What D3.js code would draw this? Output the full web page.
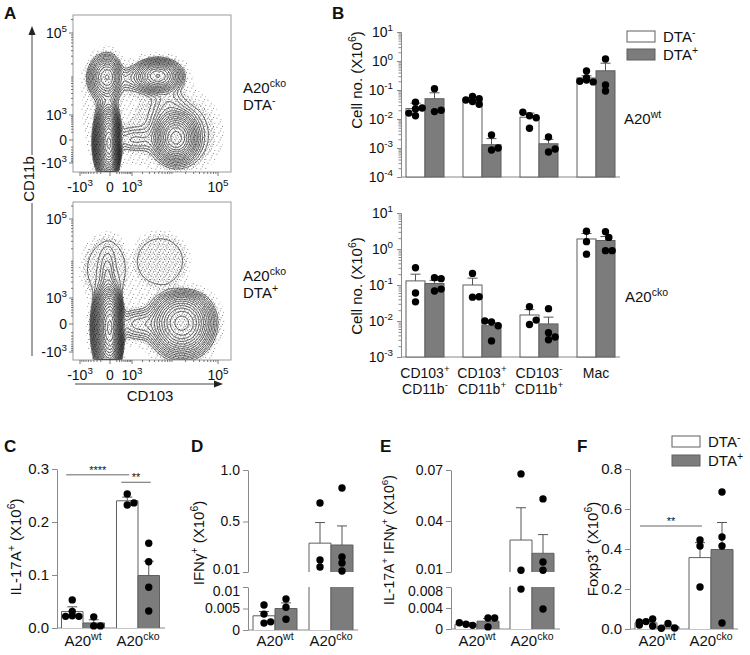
<!DOCTYPE html>
<html><head><meta charset="utf-8">
<script src="https://cdn.jsdelivr.net/npm/d3@7"></script>
<style>body{margin:0;background:#fff}</style>
</head><body>
<svg id="c" width="750" height="655" xmlns="http://www.w3.org/2000/svg"></svg>
<script>
// ================= DATA =================
// Panel A – flow cytometry (biexponential axes)
const flowTicks = [-1e3, 0, 1e3, 1e5];
const flowTickLabels = [["-10",["3"]], ["0"], ["10",["3"]], ["10",["5"]]];
const flowMinor = [-900,-800,-700,-600,-500,-400,-300,-200,200,300,400,500,600,700,800,900,
  2000,3000,4000,5000,6000,7000,8000,9000,1e4,2e4,3e4,4e4,5e4,6e4,7e4,8e4,9e4,2e5];
// populations: centre/spread in display units (decades), w = relative density, p = shape (1 gaussian, >1 flat-top)
const flowTopPops = [
  {cx:-0.016, cy:-0.07, sx:0.085,sy:0.27, w:1.0},   // CD103- CD11b-
  {cx:-0.05,  cy:1.33,  sx:0.13, sy:0.22, w:0.12},  // CD103- CD11b+
  {cx:1.04,   cy:1.36,  sx:0.21, sy:0.155,w:0.2},   // CD103+ CD11b+
  {cx:1.43,   cy:0.04,  sx:0.19, sy:0.21, w:0.3},   // CD103+ CD11b-
  {cx:1.55,   cy:0.1,   sx:0.62, sy:0.62, w:0.0062, p:2},
  {cx:0.55,   cy:0.0,   sx:0.3,  sy:0.14, w:0.012},
  {cx:-0.03,  cy:0.69,  sx:0.1,  sy:0.25, w:0.014},
  {cx:0.49,   cy:1.3,   sx:0.3,  sy:0.15, w:0.012},
  {cx:1.26,   cy:0.71,  sx:0.2,  sy:0.3,  w:0.009},
  {cx:0.7,    cy:0.55,  sx:0.75, sy:0.7,  w:0.003}
];
const flowBotPops = [
  {cx:0.0,   cy:-0.06, sx:0.1,  sy:0.3,  w:1.0},
  {cx:1.55,  cy:0.02,  sx:0.27, sy:0.24, w:0.3},
  {cx:-0.02, cy:1.17,  sx:0.38, sy:0.68, w:0.0066, p:3},
  {cx:-0.04, cy:1.0,   sx:0.07, sy:0.32, w:0.012},
  {cx:1.09,  cy:1.36,  sx:0.52, sy:0.56, w:0.0066, p:3},
  {cx:0.65,  cy:0.0,   sx:0.3,  sy:0.15, w:0.02},
  {cx:0.7,   cy:0.5,   sx:0.8,  sy:0.7,  w:0.001}
];
const contourLevels = [0.92,0.72,0.56,0.44,0.34,0.26,0.2,0.155,0.12,0.092,0.07,0.054,0.041,0.031,0.024,0.018,0.0135,0.01,0.0074,0.0052];

// Panel B – cell numbers (x10^6)
const bGroups = ["CD103+CD11b-","CD103+CD11b+","CD103-CD11b+","Mac"];
const bGroupLabels = [[["CD103",["+"]],["CD11b",["-"]]], [["CD103",["+"]],["CD11b",["+"]]], [["CD103",["-"]],["CD11b",["+"]]], [["Mac"]]];
const bTopTicks = [1e-4,1e-3,1e-2,1e-1,1e0,1e1];
const bBotTicks = [1e-3,1e-2,1e-1,1e0,1e1];
const bWtNegMean = [0.023, 0.045, 0.0115, 0.26];
const bWtNegSem  = [0.012, 0.008, 0.0045, 0.05];
const bWtPosMean = [0.05, 0.0013, 0.0014, 0.46];
const bWtPosSem  = [0.03, 0.0008, 0.0006, 0.38];
const bWtNegDots = [[0.038,0.022,0.024,0.013,0.016],[0.06,0.05,0.045,0.04,0.032],[0.013,0.011,0.017,0.0048],[0.45,0.26,0.19,0.2,0.22]];
const bWtPosDots = [[0.11,0.018,0.02],[0.0028,0.00085,0.001],[0.0024,0.00073,0.00092],[1.17,0.092,0.15]];
const bCkoNegMean = [0.13, 0.10, 0.0147, 1.9];
const bCkoNegSem  = [0.07, 0.055, 0.006, 0.8];
const bCkoPosMean = [0.11, 0.0074, 0.0083, 1.72];
const bCkoPosSem  = [0.025, 0.0015, 0.0045, 0.5];
const bCkoNegDots = [[0.3,0.034,0.06],[0.21,0.046,0.047],[0.025,0.008,0.0106],[3.1,1.6,0.72]];
const bCkoPosDots = [[0.16,0.15,0.068,0.077],[0.0094,0.0074,0.01,0.0028],[0.022,0.0047,0.003,0.0036],[3.0,2.1,0.9,0.9]];

// Panels C–F
const genotypes = ["A20wt","A20cko"];
const genotypeLabels = [["A20",["wt"]],["A20",["cko"]]];
const cTicks = [0,0.1,0.2,0.3], cTickLabels = ["0.0","0.1","0.2","0.3"];
const cNegMean = [0.031,0.24], cNegSem = [0.009,0.007], cPosMean = [0.0095,0.099], cPosSem = [0.006,0.027];
const cNegDots = [[0.053,0.031,0.022,0.022,0.023],[0.253,0.232,0.236]];
const cPosDots = [[0.021,0.004,0.004],[0.16,0.125,0.077,0.032]];
const cSig = [{from:[0,0],to:[1,0],y:0.289,label:"****"},{from:[1,0],to:[1,1],y:0.275,label:"**"}];

const dLowTicks = [0,0.005,0.01], dLowLabels = ["0","0.005","0.01"];
const dHighTicks = [0.01,0.5,1.0], dHighLabels = ["0.01","0.5","1.0"];
const dNegMean = [0.0033,0.29], dNegSem = [0.001,0.2], dPosMean = [0.005,0.272], dPosSem = [0.0013,0.185];
const dNegDots = [[0.0058,0.0037,0.0016,0.0019],[0.68,0.058,0.126]];
const dPosDots = [[0.0072,0.0053,0.0025],[0.825,0.156,0.097,0.02]];

const eLowTicks = [0,0.004,0.008], eLowLabels = ["0","0.004","0.008"];
const eHighTicks = [0.01,0.04,0.07], eHighLabels = ["0.01","0.04","0.07"];
const eNegMean = [0.0009,0.0288], eNegSem = [0.0003,0.019], ePosMean = [0.0015,0.021], ePosSem = [0.0005,0.011];
const eNegDots = [[0.0009,0.0007,0.0012],[0.0677,0.011,0.0076]];
const ePosDots = [[0.0021,0.0021,0.0004],[0.053,0.0159,0.011,0.0038]];

const fTicks = [0,0.2,0.4,0.6,0.8], fTickLabels = ["0.0","0.2","0.4","0.6","0.8"];
const fNegMean = [0.031,0.357], fNegSem = [0.008,0.075], fPosMean = [0.012,0.3975], fPosSem = [0.008,0.135];
const fNegDots = [[0.037,0.05,0.015,0.02,0.035],[0.445,0.415,0.21]];
const fPosDots = [[0.028,0.005,0.004],[0.685,0.46,0.415,0.03]];
const fSig = [{from:[0,0],to:[1,0],y:0.515,label:"**"}];

const legendLabels = [["DTA",["-"]],["DTA",["+"]]];

// ================= DRAWING =================
const FONT = "'Liberation Sans', Arial, sans-serif";
const AXC = "#8a8a8a", BARSTROKE = "#5f5f5f", GRAYFILL = "#7c7c7c", INK = "#111";
const svg = d3.select("#c").attr("font-family", FONT);
const defs = svg.append("defs");

function addRich(sel, parts, fs){
  let up=false;
  parts.forEach(p=>{
    const sup=Array.isArray(p);
    const t=sel.append("tspan").text(sup?p[0]:p);
    if(sup){ t.attr("font-size", fs*0.7); if(!up){ t.attr("dy", -fs*0.42); up=true; } }
    else if(up){ t.attr("dy", fs*0.42); up=false; }
  });
}
function richText(x, y, parts, fs, anchor, rotate, weight){
  const t = svg.append("text").attr("font-size", fs).attr("fill", INK)
    .attr("text-anchor", anchor||"start").attr("font-weight", weight||"normal");
  if(rotate){ t.attr("transform",`translate(${x},${y}) rotate(-90)`).attr("dy","0.35em"); }
  else t.attr("x",x).attr("y",y);
  addRich(t, parts, fs);
  return t;
}
function letter(x,y,s){ svg.append("text").attr("x",x).attr("y",y).attr("font-size",17).attr("font-weight","bold").attr("fill",INK).text(s); }

// ---------- Panel A ----------
const tf = v => Math.sign(v)*Math.log10(1+Math.abs(v)/480);
const stip = defs.append("pattern").attr("id","stip").attr("width",9).attr("height",9).attr("patternUnits","userSpaceOnUse");
[[0.5,0.8],[4.6,2.2],[7.3,5.9],[2.4,6.6],[6.1,0.1],[3.8,4.4]].forEach(p=>stip.append("rect").attr("x",p[0]).attr("y",p[1]).attr("width",0.9).attr("height",0.9).attr("fill","#000"));
const stip2 = defs.append("pattern").attr("id","stip2").attr("width",5).attr("height",5).attr("patternUnits","userSpaceOnUse");
[[0.3,0.6],[2.9,1.7],[1.6,3.6],[4.0,4.2]].forEach(p=>stip2.append("rect").attr("x",p[0]).attr("y",p[1]).attr("width",0.9).attr("height",0.9).attr("fill","#000"));

function flowPlot(frame, yTickPx, pops, id){
  const xs = d3.scaleLinear().domain(flowTicks.map(tf)).range([80,110,132,218]);
  const ys = d3.scaleLinear().domain(flowTicks.map(tf)).range(yTickPx);
  const W=frame.w, H=frame.h, vals=new Float64Array(W*H);
  for(let j=0;j<H;j++){ const ty=ys.invert(frame.y+j+0.5);
    for(let i=0;i<W;i++){ const tx=xs.invert(frame.x+i+0.5); let s=0;
      for(const p of pops){ const dx=(tx-p.cx)/p.sx, dy=(ty-p.cy)/p.sy; s+=p.w*Math.exp(-0.5*Math.pow(dx*dx+dy*dy, p.p||1)); }
      vals[j*W+i]=s; } }
  defs.append("clipPath").attr("id",id).append("rect").attr("x",frame.x).attr("y",frame.y).attr("width",W).attr("height",H);
  const g = svg.append("g").attr("clip-path",`url(#${id})`);
  const path = d3.geoPath(d3.geoIdentity().translate([frame.x, frame.y]));
  const st = d3.contours().size([W,H]).thresholds([0.0009,0.003])(vals);
  g.append("path").attr("d",path(st[0])).attr("fill","url(#stip)").attr("opacity",0.55);
  g.append("path").attr("d",path(st[1])).attr("fill","url(#stip2)").attr("opacity",0.6);
  const cs = d3.contours().size([W,H]).thresholds(contourLevels)(vals);
  g.selectAll("path.c").data(cs).join("path").attr("class","c").attr("d",path)
    .attr("fill","none").attr("stroke","#000").attr("stroke-width",0.6);
  svg.append("rect").attr("x",frame.x).attr("y",frame.y).attr("width",W).attr("height",H)
    .attr("fill","none").attr("stroke","#9a9a9a").attr("stroke-width",1);
  // ticks
  const ax = svg.append("g").attr("stroke","#555").attr("stroke-width",0.8);
  flowTicks.forEach(v=>{
    ax.append("line").attr("x1",frame.x-4).attr("x2",frame.x).attr("y1",ys(tf(v))).attr("y2",ys(tf(v)));
    ax.append("line").attr("y1",frame.y+H).attr("y2",frame.y+H+4).attr("x1",xs(tf(v))).attr("x2",xs(tf(v)));
  });
  flowMinor.forEach(v=>{
    const yy=ys(tf(v)), xx=xs(tf(v));
    if(yy>frame.y && yy<frame.y+H) ax.append("line").attr("x1",frame.x-2).attr("x2",frame.x).attr("y1",yy).attr("y2",yy);
    if(xx>frame.x && xx<frame.x+W) ax.append("line").attr("y1",frame.y+H).attr("y2",frame.y+H+2).attr("x1",xx).attr("x2",xx);
  });
  flowTicks.forEach((v,i)=>{
    const t=svg.append("text").attr("x",frame.x-6).attr("y",ys(tf(v))).attr("dy","0.38em")
      .attr("text-anchor","end").attr("font-size",14).attr("fill",INK);
    addRich(t, flowTickLabels[i], 14);
    const u=svg.append("text").attr("x",xs(tf(v))).attr("y",frame.y+H+20)
      .attr("text-anchor","middle").attr("font-size",14).attr("fill",INK);
    addRich(u, flowTickLabels[i], 14);
  });
}
letter(4,19,"A");
flowPlot({x:73,y:15,w:158,h:157},[163,140,115,33], flowTopPops, "clipA1");
flowPlot({x:73,y:202,w:158,h:158},[352,324,298,219], flowBotPops, "clipA2");
// axis arrows
svg.append("line").attr("x1",32).attr("x2",32).attr("y1",356).attr("y2",34).attr("stroke","#444").attr("stroke-width",1);
svg.append("path").attr("d","M32,26 L28.5,35 L35.5,35 Z").attr("fill","#222");
svg.append("line").attr("x1",75).attr("x2",215).attr("y1",384).attr("y2",384).attr("stroke","#444").attr("stroke-width",1);
svg.append("path").attr("d","M223,384 L214,380.5 L214,387.5 Z").attr("fill","#222");
svg.append("rect").attr("x",21).attr("y",155).attr("width",18).attr("height",48).attr("fill","#fff");
richText(29,179,["CD11b"],15,"middle",true);
richText(150,401,["CD103"],15,"middle");
richText(243,93,["A20",["cko"]],15); richText(243,110,["DTA",["-"]],15);
richText(243,281,["A20",["cko"]],15); richText(243,298,["DTA",["+"]],15);

// ---------- helpers for bars/dots ----------
function swarm(ys, r, maxOff){
  const placed=[], offs=[];
  ys.forEach(y=>{
    let best=0, bestScore=Infinity;
    for(const k of [0,1,-1,2,-2,3,-3]){
      const o=k*r*0.9; if(Math.abs(o)>maxOff) continue;
      const score=placed.reduce((a,p)=>a+Math.max(0,1.6*r-Math.hypot(p[0]-o,p[1]-y)),0);
      if(score<bestScore-1e-9){ bestScore=score; best=o; }
      if(score===0) break;
    }
    placed.push([best,y]); offs.push(best);
  });
  return offs;
}
const DOT_R = 3.7;
function errBar(x, y0, y1){
  svg.append("line").attr("x1",x).attr("x2",x).attr("y1",y0).attr("y2",y1).attr("stroke","#555").attr("stroke-width",1);
  svg.append("line").attr("x1",x-5).attr("x2",x+5).attr("y1",y1).attr("y2",y1).attr("stroke","#555").attr("stroke-width",1);
}
function dots(cx, yvals, yf, maxOff){
  const ys=yvals.map(yf), offs=swarm(ys, DOT_R, maxOff);
  ys.forEach((y,i)=>svg.append("circle").attr("cx",cx+offs[i]).attr("cy",y).attr("r",DOT_R).attr("fill","#000"));
}
function styleAxis(g, fs){
  g.attr("color",AXC).attr("font-family",FONT).attr("font-size",fs);
  g.selectAll("text").attr("fill",INK);
}

// ---------- Panel B ----------
letter(332,19,"B");
function bPanel(ticks, yRng, negMean, negSem, posMean, posSem, negDots, posDots, ylabY, gLabelParts, gLabelY){
  const y = d3.scaleLog().domain([ticks[0], ticks[ticks.length-1]]).range(yRng);
  const x = d3.scalePoint().domain(bGroups).range([425,596]);
  const bw = 19, base = yRng[0];
  const minors=[]; ticks.slice(0,-1).forEach(d=>{ for(let k=2;k<10;k++) minors.push(d*k); });
  const gm = svg.append("g").attr("transform","translate(401,0)").call(d3.axisLeft(y).tickValues(minors).tickFormat("").tickSize(2.5).tickSizeOuter(0));
  styleAxis(gm,14);
  const g = svg.append("g").attr("transform","translate(401,0)").call(d3.axisLeft(y).tickValues(ticks).tickSize(4).tickSizeOuter(0));
  styleAxis(g,14);
  g.selectAll(".tick text").each(function(d){ const s=d3.select(this); s.text(null).attr("x",-8); addRich(s,["10",[String(Math.round(Math.log10(d)))]],14); });
  svg.append("line").attr("x1",401).attr("x2",620).attr("y1",base).attr("y2",base).attr("stroke",AXC);
  const series=[{m:negMean,s:negSem,d:negDots,fill:"#fff",side:-1},{m:posMean,s:posSem,d:posDots,fill:GRAYFILL,side:1}];
  series.forEach(se=>bGroups.forEach((gname,i)=>{
    const x0 = se.side<0 ? x(gname)-bw : x(gname);
    svg.append("rect").attr("x",x0).attr("y",y(se.m[i])).attr("width",bw).attr("height",base-y(se.m[i]))
      .attr("fill",se.fill).attr("stroke",BARSTROKE).attr("stroke-width",1);
  }));
  series.forEach(se=>bGroups.forEach((gname,i)=>{
    const cx = x(gname)+se.side*bw/2;
    errBar(cx, y(se.m[i]), y(se.m[i]+se.s[i]));
    dots(cx, se.d[i], y, 8);
  }));
  svg.append("text").attr("transform",`translate(357,${ylabY}) rotate(-90)`).attr("dy","0.35em")
    .attr("text-anchor","middle").attr("font-size",15).attr("fill",INK)
    .call(t=>addRich(t,["Cell no. (X10",["6"],")"],15));
  if(gLabelParts){
    bGroups.forEach((gname,i)=>gLabelParts[i].forEach((line,li)=>{
      const t=svg.append("text").attr("x",x(gname)).attr("y",gLabelY+li*16).attr("text-anchor","middle").attr("font-size",14).attr("fill",INK);
      addRich(t,line,14);
    }));
  }
}
bPanel(bTopTicks,[177,32],bWtNegMean,bWtNegSem,bWtPosMean,bWtPosSem,bWtNegDots,bWtPosDots,80,null);
bPanel(bBotTicks,[357,213],bCkoNegMean,bCkoNegSem,bCkoPosMean,bCkoPosSem,bCkoNegDots,bCkoPosDots,286,bGroupLabels,378);
richText(624,124,["A20",["wt"]],15);
richText(625,302,["A20",["cko"]],15);
function legend(x,y,gap){
  [["#fff"],[GRAYFILL]].forEach((f,i)=>{
    svg.append("rect").attr("x",x).attr("y",y+i*gap).attr("width",28).attr("height",11).attr("fill",f[0]).attr("stroke",BARSTROKE);
    richText(x+36,y+i*gap+11,legendLabels[i],15);
  });
}
legend(627,31,18);

// ---------- Panels C–F ----------
function barPanel(o){
  const segs = o.segs.map(s=>Object.assign({}, s, {sc:d3.scaleLinear().domain(s.dom).range(s.rng)}));
  const yf = v => { if(segs.length===1) return segs[0].sc(v); return v<=segs[0].dom[1] ? segs[0].sc(v) : segs[1].sc(v); };
  const x = d3.scalePoint().domain(genotypes).range(o.centers);
  const bw=o.bw, base=segs[0].rng[0], tfs=o.tickFs||15;
  segs.forEach((s,si)=>{
    const g=svg.append("g").attr("transform",`translate(${o.axisX},0)`)
      .call(d3.axisLeft(s.sc).tickValues(s.ticks).tickFormat((d,i)=>s.labels[i]).tickSize(5).tickSizeOuter(0));
    styleAxis(g,tfs);
    if(segs.length>1){
      const txt=g.selectAll(".tick text");
      if(si===0) txt.filter((d,i)=>i===s.ticks.length-1).attr("dy","0.58em");
      else txt.filter((d,i)=>i===0).attr("dy","0.08em");
    }
  });
  svg.append("line").attr("x1",o.axisX).attr("x2",o.xEnd).attr("y1",base).attr("y2",base).attr("stroke",AXC);
  const series=[{m:o.negMean,s:o.negSem,d:o.negDots,fill:"#fff",side:-1},{m:o.posMean,s:o.posSem,d:o.posDots,fill:GRAYFILL,side:1}];
  const bx=(gi,si)=>x(genotypes[gi])+series[si].side*bw/2;
  series.forEach(se=>genotypes.forEach((gname,i)=>{
    const v=se.m[i], x0 = se.side<0 ? x(gname)-bw : x(gname);
    segs.forEach((s,si)=>{
      if(si>0 && v<=s.dom[0]) return;
      const top=Math.min(v,s.dom[1]), yb=s.sc(s.dom[0]), yt=s.sc(top);
      svg.append("rect").attr("x",x0).attr("y",yt).attr("width",bw).attr("height",yb-yt).attr("fill",se.fill);
      const p=d3.path(); p.moveTo(x0,yb); p.lineTo(x0,yt);
      if(v<=s.dom[1] || si===segs.length-1){ p.lineTo(x0+bw,yt); } else { p.moveTo(x0+bw,yt); }
      p.lineTo(x0+bw,yb);
      svg.append("path").attr("d",p.toString()).attr("fill","none").attr("stroke",BARSTROKE).attr("stroke-width",1);
    });
  }));
  series.forEach(se=>genotypes.forEach((gname,i)=>{
    const cx=x(gname)+se.side*bw/2;
    errBar(cx, yf(se.m[i]), yf(se.m[i]+se.s[i]));
    dots(cx, se.d[i], yf, bw/2-2);
  }));
  (o.sig||[]).forEach(s=>{
    const x1=bx(s.from[0],s.from[1]), x2=bx(s.to[0],s.to[1]), yy=yf(s.y);
    svg.append("line").attr("x1",x1-6).attr("x2",x2+2).attr("y1",yy).attr("y2",yy).attr("stroke","#666");
    svg.append("text").attr("x",(x1+x2)/2-2).attr("y",yy-1).attr("text-anchor","middle").attr("font-size",11).attr("fill",INK).text(s.label);
  });
  genotypes.forEach((gname,i)=>{
    const t=svg.append("text").attr("x",x(gname)).attr("y",646).attr("text-anchor","middle").attr("font-size",15).attr("fill",INK);
    addRich(t,genotypeLabels[i],15);
  });
  svg.append("text").attr("transform",`translate(${o.ylab[0]},${o.ylab[1]}) rotate(-90)`).attr("dy","0.35em")
    .attr("text-anchor","middle").attr("font-size",o.ylabFs||15).attr("fill",INK)
    .call(t=>addRich(t,o.ylabParts,o.ylabFs||15));
  letter(o.letter[0],452,o.letter[1]);
}
barPanel({letter:[4,"C"],axisX:57,xEnd:165,centers:[83,138],bw:21.5,
  segs:[{dom:[0,0.3],rng:[628,469],ticks:cTicks,labels:cTickLabels}],
  negMean:cNegMean,negSem:cNegSem,posMean:cPosMean,posSem:cPosSem,negDots:cNegDots,posDots:cPosDots,sig:cSig,
  ylab:[16,547],ylabParts:["IL-17A",["+"]," (X10",["6"],")"]});
barPanel({letter:[191,"D"],axisX:248,xEnd:358,centers:[275,331],bw:22,tickFs:14,
  segs:[{dom:[0,0.01],rng:[630,587],ticks:dLowTicks,labels:dLowLabels},{dom:[0.01,1.0],rng:[572,470],ticks:dHighTicks,labels:dHighLabels}],
  negMean:dNegMean,negSem:dNegSem,posMean:dPosMean,posSem:dPosSem,negDots:dNegDots,posDots:dPosDots,
  ylab:[199,543],ylabParts:["IFN\u03b3",["+"]," (X10",["6"],")"]});
barPanel({letter:[380,"E"],axisX:451,xEnd:560,centers:[477,532],bw:22,tickFs:14,
  segs:[{dom:[0,0.008],rng:[629,587],ticks:eLowTicks,labels:eLowLabels},{dom:[0.01,0.07],rng:[572,470],ticks:eHighTicks,labels:eHighLabels}],
  negMean:eNegMean,negSem:eNegSem,posMean:ePosMean,posSem:ePosSem,negDots:eNegDots,posDots:ePosDots,
  ylab:[389,540],ylabFs:14,ylabParts:["IL-17A",["+"]," IFN\u03b3",["+"]," (X10",["6"],")"]});
barPanel({letter:[577,"F"],axisX:630,xEnd:738,centers:[657,711],bw:22,
  segs:[{dom:[0,0.8],rng:[629,469],ticks:fTicks,labels:fTickLabels}],
  negMean:fNegMean,negSem:fNegSem,posMean:fPosMean,posSem:fPosSem,negDots:fNegDots,posDots:fPosDots,sig:fSig,
  ylab:[593,549],ylabParts:["Foxp3",["+"]," (X10",["6"],")"]});
legend(672,436,19);
</script>
</body></html>
